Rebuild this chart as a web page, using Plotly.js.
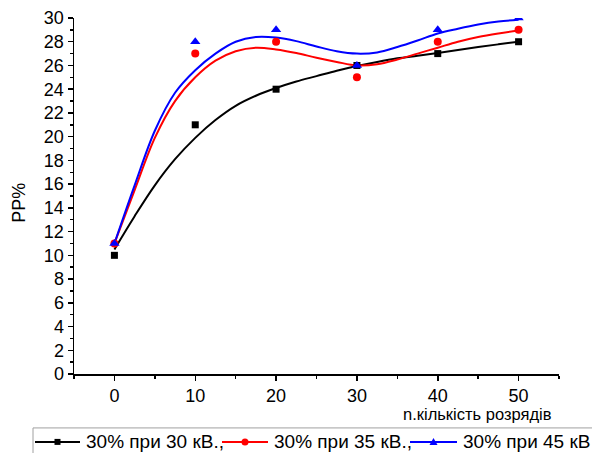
<!DOCTYPE html>
<html>
<head>
<meta charset="utf-8">
<script src="https://cdn.plot.ly/plotly-3.0.1.min.js"></script>
<style>html,body{margin:0;padding:0;background:#fff;}#chart{width:592px;height:453px;}</style>
</head>
<body>
<div id="chart"></div>
<script>
// measured points
var xPts = [0, 10, 20, 30, 40, 50];
var y30 = [10, 21, 24, 26, 27, 28];
var y35 = [11, 27, 28, 25, 28, 29];
var y45 = [11, 28, 29, 26, 29, 30];

// fitted curves
var xCurve = [0, 2.5, 5, 7.5, 10, 12.5, 15, 17.5, 20, 22.5, 25, 27.5, 30, 32.5, 35, 37.5, 40, 42.5, 45, 47.5, 50];
var c30 = [10.5, 13.3, 15.9, 18.1, 19.9, 21.4, 22.6, 23.45, 24.1, 24.65, 25.1, 25.55, 25.95, 26.3, 26.6, 26.82, 27.05, 27.3, 27.55, 27.78, 28.0];
var c35 = [11.0, 15.5, 19.9, 23.0, 25.0, 26.4, 27.2, 27.5, 27.35, 27.05, 26.65, 26.3, 26.0, 26.1, 26.5, 27.0, 27.5, 28.0, 28.4, 28.7, 28.95];
var c45 = [11.0, 15.9, 20.5, 23.7, 25.6, 27.0, 28.0, 28.4, 28.35, 28.05, 27.6, 27.2, 27.0, 27.1, 27.55, 28.1, 28.7, 29.1, 29.45, 29.7, 29.85];

var names = ['30% при 30 кВ.,', '30% при 35 кВ.,', '30% при 45 кВ'];
var colors = ['#000000', '#ff0000', '#0000ff'];
var symbols = ['square', 'circle', 'triangle-up'];
var sizes = [7, 8, 9];

var pts = [y30, y35, y45];
var curves = [c30, c35, c45];

var data = [];
for (var i = 0; i < 3; i++) {
  data.push({x: xCurve, y: curves[i], name: names[i], mode: 'lines', line: {color: colors[i], width: 2, shape: 'spline', smoothing: 1}, showlegend: false, hoverinfo: 'skip'});
}
for (var i = 0; i < 3; i++) {
  data.push({x: xPts, y: pts[i], name: names[i], mode: 'markers', marker: {color: colors[i], symbol: symbols[i], size: sizes[i]}, showlegend: false});
}

// plot area in pixels
var L = 74, R = 559, T = 17.5, B = 374;
function px(x) { return (x - L) / (R - L); }
function py(y) { return (B - y) / (B - T); }

var font = 'Liberation Sans, Arial, sans-serif';
var shapes = [];
var annotations = [];

// legend frame
shapes.push({type: 'rect', xref: 'paper', yref: 'paper', x0: px(33), x1: px(610), y0: py(428), y1: py(470), line: {color: '#a0a0a0', width: 1}, fillcolor: 'rgba(0,0,0,0)'});
var lineStart = [35, 222, 410];
var lineEnd = [80, 268, 457];
var legY = 442;
for (var i = 0; i < 3; i++) {
  shapes.push({type: 'line', xref: 'paper', yref: 'paper', x0: px(lineStart[i]), x1: px(lineEnd[i]), y0: py(legY), y1: py(legY), line: {color: colors[i], width: 2}});
  var cx = px((lineStart[i] + lineEnd[i]) / 2), cy = py(legY);
  var base = {xref: 'paper', yref: 'paper', xsizemode: 'pixel', ysizemode: 'pixel', xanchor: cx, yanchor: cy, fillcolor: colors[i], line: {color: colors[i], width: 0}};
  if (symbols[i] === 'square') {
    shapes.push(Object.assign({type: 'rect', x0: -3, x1: 3, y0: -3, y1: 3}, base));
  } else if (symbols[i] === 'circle') {
    shapes.push(Object.assign({type: 'circle', x0: -3.5, x1: 3.5, y0: -3.5, y1: 3.5}, base));
  } else {
    shapes.push(Object.assign({type: 'path', path: 'M-4,-3L4,-3L0,4Z'}, base));
  }
  annotations.push({text: names[i], xref: 'paper', yref: 'paper', x: px(lineEnd[i] + 4), y: py(legY), xanchor: 'left', yanchor: 'middle', showarrow: false, font: {family: font, size: 19, color: '#000'}});
}

annotations.push({text: 'n.кількість розрядів', xref: 'paper', yref: 'paper', x: px(477), y: py(414), xanchor: 'center', yanchor: 'middle', showarrow: false, font: {family: font, size: 16.5, color: '#000'}});
annotations.push({text: 'PP%', xref: 'paper', yref: 'paper', x: px(19.5), y: py(203), xanchor: 'center', yanchor: 'middle', textangle: -90, showarrow: false, font: {family: font, size: 18, color: '#000'}});

var layout = {
  width: 592, height: 453,
  margin: {l: L, r: 592 - R, t: T, b: 453 - B, pad: 0},
  paper_bgcolor: '#fff', plot_bgcolor: '#fff',
  font: {family: font, color: '#000', size: 18},
  showlegend: false,
  xaxis: {
    range: [-5, 55], tickvals: xPts, ticktext: xPts.map(String),
    ticks: 'outside', ticklen: 5, tickwidth: 1.5, tickcolor: '#000',
    minor: {dtick: 5, tick0: 0, ticks: 'outside', ticklen: 3, tickwidth: 1.5, tickcolor: '#000', showgrid: false},
    showline: true, linecolor: '#000', linewidth: 1.5,
    showgrid: false, zeroline: false,
    tickfont: {family: font, size: 18, color: '#000'}
  },
  yaxis: {
    range: [0, 30], dtick: 2, tick0: 0,
    ticks: 'outside', ticklen: 5, tickwidth: 1.5, tickcolor: '#000',
    minor: {dtick: 1, ticks: 'outside', ticklen: 3, tickwidth: 1.5, tickcolor: '#000', showgrid: false},
    showline: true, linecolor: '#000', linewidth: 1.5,
    showgrid: false, zeroline: false,
    tickfont: {family: font, size: 18, color: '#000'}
  },
  shapes: shapes,
  annotations: annotations
};

Plotly.newPlot('chart', data, layout, {displayModeBar: false, staticPlot: true});
</script>
</body>
</html>
